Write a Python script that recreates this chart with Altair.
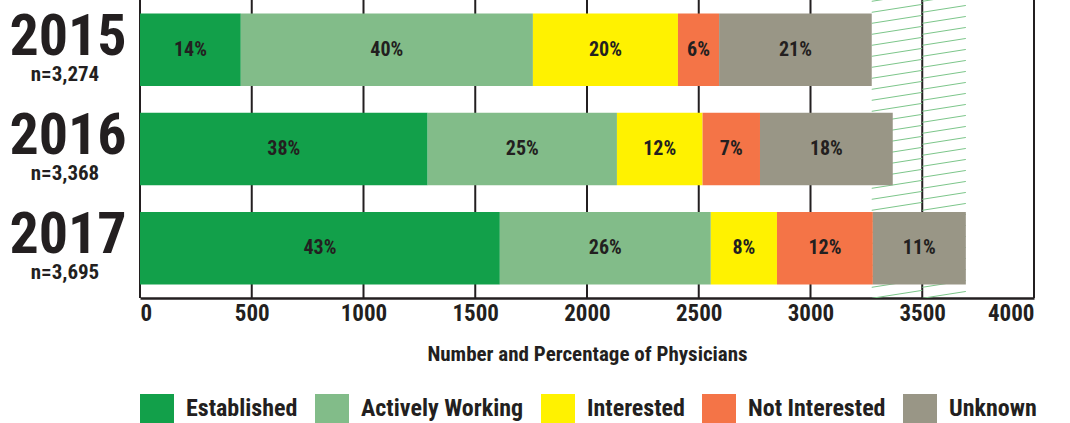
import altair as alt
import pandas as pd

years = ["2015", "2016", "2017"]
n_labels = ["n=3,274", "n=3,368", "n=3,695"]
categories = ["Established", "Actively Working", "Interested", "Not Interested", "Unknown"]
colors = ["#12a04a", "#82bc89", "#fff200", "#f47447", "#999686"]
counts_2015 = [451, 1307, 649, 184, 683]
counts_2016 = [1287, 847, 383, 257, 594]
counts_2017 = [1610, 944, 296, 429, 416]
pct_2015 = ["14%", "40%", "20%", "6%", "21%"]
pct_2016 = ["38%", "25%", "12%", "7%", "18%"]
pct_2017 = ["43%", "26%", "8%", "12%", "11%"]
x_ticks = [0, 500, 1000, 1500, 2000, 2500, 3000, 3500, 4000]
hatch_bounds = [3274, 3500, 3695]

FONT = "Roboto Condensed, Liberation Sans Narrow, Roboto"
INK = "#231f20"
W, H = 894, 298

rows = []
for yr, cnts, pcts in zip(years, [counts_2015, counts_2016, counts_2017], [pct_2015, pct_2016, pct_2017]):
    for i, (cat, c, p) in enumerate(zip(categories, cnts, pcts)):
        rows.append({"year": yr, "category": cat, "order": i, "count": c, "label": p})
df = pd.DataFrame(rows)
years_df = pd.DataFrame({"year": years, "n": n_labels})
ticks_df = pd.DataFrame({"v": x_ticks})

# decorative hatch pattern (pixel-space lines inside two value ranges)
hatch_rows = []
slope = 0.157
spacing = 11.0
for a, b in zip(hatch_bounds[:-1], hatch_bounds[1:]):
    wpx = (b - a) * W / 4000
    rise = wpx * slope
    yv = 1.3
    while yv < H + rise + spacing:
        hatch_rows.append({"x1": a, "x2": b, "y1": yv, "y2": yv - rise})
        yv += spacing
hatch_df = pd.DataFrame(hatch_rows)

yenc = alt.Y("year:N", sort=years, axis=None,
             scale=alt.Scale(paddingInner=0.27, paddingOuter=0.135))
xscale = alt.Scale(domain=[0, 4000], nice=False, zero=True)
xaxis = alt.Axis(values=x_ticks, format="d", grid=False, domainColor=INK, domainWidth=2.5,
                 ticks=False, labelFont=FONT, labelFontSize=23, labelFontWeight="bold",
                 labelColor=INK, labelPadding=4,
                 title="Number and Percentage of Physicians",
                 titleFont=FONT, titleFontSize=21, titleFontWeight="bold",
                 titleColor=INK, titlePadding=18)

grid = alt.Chart(ticks_df).mark_rule(color=INK, strokeWidth=2).encode(
    x=alt.X("v:Q", scale=xscale, axis=xaxis),
)

hatch = alt.Chart(hatch_df).mark_rule(clip=True, color="#7cc68a", strokeWidth=1).encode(
    x=alt.X("x1:Q", scale=xscale, axis=xaxis),
    x2="x2:Q",
    y=alt.Y("y1:Q", scale=alt.Scale(domain=[0, H], range=[0, H]), axis=None),
    y2="y2:Q",
)

bars = alt.Chart(df).mark_bar().encode(
    x=alt.X("count:Q", stack="zero", scale=xscale, axis=xaxis),
    y=yenc,
    color=alt.Color("category:N", scale=alt.Scale(domain=categories, range=colors),
                    legend=alt.Legend(orient="none", legendX=0, legendY=392, direction="horizontal",
                                      title=None, symbolType="M-1,-0.88H1V0.88H-1Z",
                                      symbolSize=1156, symbolStrokeWidth=0, symbolOpacity=1,
                                      labelFont=FONT, labelFontSize=24, labelFontWeight="bold",
                                      labelColor=INK, labelOffset=12, columnPadding=17,
                                      labelLimit=300)),
    order=alt.Order("order:Q"),
)

labels = alt.Chart(df).transform_stack(
    stack="count", groupby=["year"], sort=[alt.SortField("order")], as_=["x0", "x1"]
).transform_calculate(mid="(datum.x0 + datum.x1) / 2").mark_text(
    font=FONT, fontSize=20, fontWeight="bold", color=INK, baseline="middle", align="center"
).encode(
    x=alt.X("mid:Q", scale=xscale, axis=xaxis),
    y=yenc,
    text="label:N",
)

year_text = alt.Chart(years_df).mark_text(
    font=FONT, fontSize=58, fontWeight="bold", color=INK, align="center", baseline="alphabetic", dy=5
).encode(x=alt.value(-72), y=yenc, text="year:N")

n_text = alt.Chart(years_df).mark_text(
    font=FONT, fontSize=21, fontWeight="bold", color=INK, align="center", baseline="alphabetic", dy=31
).encode(x=alt.value(-75), y=yenc, text="n:N")

chart = alt.layer(grid, hatch, bars, labels, year_text, n_text).resolve_scale(y="independent").properties(
    width=W, height=H,
    autosize=alt.AutoSizeParams(type="none"),
    padding={"left": 140, "top": 0, "right": 36, "bottom": 125},
).configure_view(stroke=None)

chart.save("out.html", embed_options={"renderer": "svg", "actions": False})
